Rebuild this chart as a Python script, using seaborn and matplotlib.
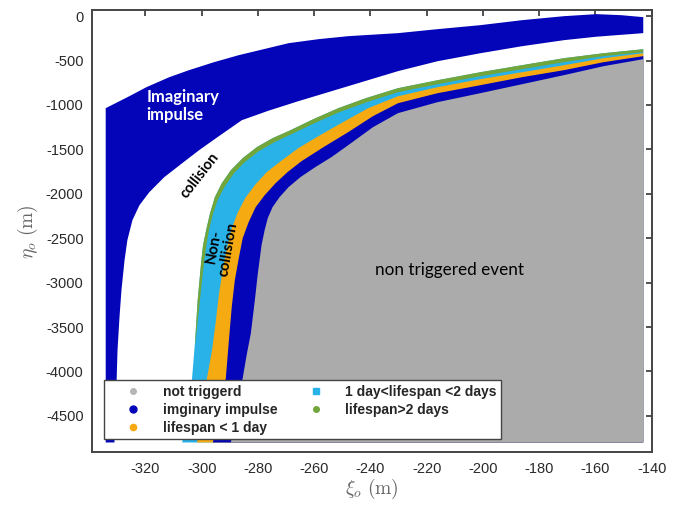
import numpy as np
import seaborn as sns
import matplotlib
matplotlib.use("Agg")
import matplotlib.pyplot as plt
from matplotlib.lines import Line2D

# ---- data: region boundaries (xi in m, eta in m) ----
# upper "imaginary impulse" band
imag_top_xi = [-334.1, -325.7, -319.6, -311.5, -304.5, -295.6, -286.8, -278.0, -269.1,
               -258.5, -247.9, -230.2, -216.1, -200.9, -186.1, -171.2, -159.6, -150.7, -143.0]
imag_top_eta = [-1036, -901, -799, -687, -608, -518, -439, -372, -304,
                -259, -225, -191, -146, -101, -45, 0, 23, 11, -11]
imag_low_xi = [-143.0, -159.6, -171.2, -186.1, -200.9, -216.1, -230.2, -247.9, -265.6,
               -276.2, -285.7, -294.9, -300.9, -306.9, -313.3, -318.6, -322.1, -324.6,
               -326.4, -327.4, -328.5, -329.2, -329.9, -330.2, -331.0]
imag_low_eta = [-191, -231, -270, -338, -417, -507, -619, -788, -957,
                -1064, -1171, -1374, -1509, -1655, -1813, -1982, -2128, -2297,
                -2522, -2747, -3085, -3389, -3761, -4076, -4800]

# outer edge of the lifespan bands (light blue side)
outer_xi = [-306.9, -303.4, -302.3, -301.4, -300.2, -299.5, -298.4, -297.0, -295.3,
            -292.8, -289.6, -285.4, -280.4, -274.8, -268.4, -260.3, -251.4, -241.6,
            -230.2, -216.1, -200.9, -186.1, -171.2, -157.1, -143.0]
outer_eta = [-4800, -4076, -3648, -3198, -2781, -2579, -2410, -2218, -2038,
             -1880, -1734, -1599, -1475, -1374, -1284, -1160, -1036, -923,
             -811, -721, -631, -552, -473, -417, -372]
# light blue / orange
lb_or_xi = [-301.6, -298.1, -296.3, -294.9, -293.9, -292.4, -291.0, -289.3, -287.1,
            -284.3, -280.8, -276.9, -271.9, -265.6, -258.5, -250.4, -240.8, -230.2,
            -216.1, -200.9, -186.1, -171.2, -157.1, -143.0]
lb_or_eta = [-4800, -4076, -3761, -3423, -3142, -2838, -2612, -2387, -2207,
             -2038, -1892, -1757, -1633, -1486, -1351, -1205, -1036, -901,
             -799, -709, -631, -552, -473, -417]
# orange / blue
or_bl_xi = [-296.0, -291.4, -290.3, -289.3, -288.2, -286.8, -285.4, -283.3, -280.8,
            -277.6, -273.7, -269.5, -264.5, -256.7, -247.9, -239.1, -230.2, -216.1,
            -200.9, -186.1, -171.2, -157.1, -143.0]
or_bl_eta = [-4800, -4076, -3648, -3277, -2973, -2725, -2500, -2320, -2151,
             -2016, -1880, -1757, -1633, -1475, -1306, -1126, -980, -867,
             -777, -687, -608, -518, -450]
# blue / grey
bl_gr_xi = [-289.6, -285.4, -284.0, -282.5, -281.5, -280.8, -280.1, -279.4, -278.7,
            -277.6, -276.5, -274.8, -272.3, -269.1, -264.9, -259.6, -253.9, -247.9,
            -239.1, -230.2, -216.1, -200.9, -186.1, -171.2, -157.1, -143.0]
bl_gr_eta = [-4800, -4076, -3817, -3569, -3310, -3119, -2916, -2747, -2579,
             -2410, -2275, -2151, -2038, -1925, -1813, -1700, -1588, -1453,
             -1250, -1092, -968, -867, -766, -664, -563, -484]
# inner edge of the thin green strip (lifespan > 2 days); its outer edge is outer_*
green_in_xi = [-302.3, -300.6, -299.2, -298.3, -297.4, -296.0, -294.2, -291.7, -288.5,
               -284.7, -279.7, -274.1, -268.1, -259.9, -251.1, -241.2, -230.2, -216.1,
               -200.9, -186.1, -171.2, -157.1, -143.0]
green_in_eta = [-3705, -3198, -2781, -2579, -2410, -2229, -2061, -1914, -1768,
                -1644, -1520, -1419, -1329, -1205, -1081, -968, -856, -766,
                -676, -597, -518, -450, -405]

legend_labels = ["not triggerd", "imginary impulse", "lifespan < 1 day",
                 "1 day<lifespan <2 days", "lifespan>2 days"]
x_ticks = list(range(-320, -139, 20))
y_ticks = list(range(0, -4501, -500))

GREY = "#ababab"
BLUE = "#0404b8"
ORANGE = "#f5aa12"
LBLUE = "#29b2e8"
GREEN = "#72a53a"

sns.set_theme(style="white")
plt.rcParams["font.family"] = ["Liberation Sans", "DejaVu Sans"]
plt.rcParams["mathtext.fontset"] = "cm"
plt.rcParams["axes.unicode_minus"] = False

fig = plt.figure(figsize=(6.86, 5.07), dpi=100)
ax = fig.add_axes([0.134, 0.108, 0.816, 0.872])

x_right = outer_xi[-1]
y_bottom = outer_eta[0]


def region_right_of(xs, ys):
    # polygon from a boundary to the lower right corner of the data
    return list(xs) + [x_right], list(ys) + [y_bottom]


for xs, ys, col in [(outer_xi, outer_eta, LBLUE), (lb_or_xi, lb_or_eta, ORANGE),
                    (or_bl_xi, or_bl_eta, BLUE), (bl_gr_xi, bl_gr_eta, GREY)]:
    px, py = region_right_of(xs, ys)
    ax.fill(px, py, color=col, lw=0)

# green strip: outer edge above eta ~ -3650, back along the inner edge
ax.fill(outer_xi[2:] + green_in_xi[::-1], outer_eta[2:] + green_in_eta[::-1],
        color=GREEN, lw=0)

imag_x = imag_top_xi + imag_low_xi + [imag_top_xi[0]]
imag_y = imag_top_eta + imag_low_eta + [imag_low_eta[-1]]
ax.fill(imag_x, imag_y, color=BLUE, lw=0)

# annotations
ax.text(-319.6, -1013, "Imaginary\nimpulse", color="white", fontsize=12,
        fontweight="bold", family=["Lato", "DejaVu Sans"], ha="left", va="center",
        linespacing=1.2)
ax.text(-300.6, -1790, "collision", color="black", fontsize=10.5, fontweight="bold",
        family=["Lato", "DejaVu Sans"], rotation=52, ha="center", va="center")
ax.text(-293.1, -2610, "Non-\ncollision", color="black", fontsize=10.8,
        fontweight="bold", family=["Lato", "DejaVu Sans"], rotation=80,
        ha="center", va="center", linespacing=1.0)
ax.text(-211.9, -2860, "non triggered event", color="black", fontsize=12.3,
        family=["Lato", "DejaVu Sans"], ha="center", va="center")

ax.set_xlim(-339, -141.3)
ax.set_ylim(-4910, 68)
ax.set_xticks(x_ticks)
ax.set_yticks(y_ticks)
ax.tick_params(direction="in", length=4, width=1.2, top=True, right=True,
               labelsize=10.5, labelcolor="#2a2a2a", color="#333333")
ax.tick_params(axis="x", pad=7)
ax.tick_params(axis="y", pad=6)
for s in ax.spines.values():
    s.set_color("#444444")
    s.set_linewidth(1.4)

ax.set_xlabel(r"$\xi_o\ (\mathrm{m})$", fontsize=14, color="#666666", labelpad=1)
ax.set_ylabel(r"$\eta_o\ (\mathrm{m})$", fontsize=14, color="#666666", labelpad=4)

handles = [
    Line2D([], [], ls="", marker="o", ms=4, color="#b5b5b5"),
    Line2D([], [], ls="", marker="o", ms=5, color=BLUE),
    Line2D([], [], ls="", marker="o", ms=4.5, color=ORANGE),
    Line2D([], [], ls="", marker="s", ms=4, color=LBLUE),
    Line2D([], [], ls="", marker="o", ms=4, color=GREEN),
]
leg = ax.legend(handles, legend_labels, ncol=2, loc="lower left",
                bbox_to_anchor=(0.0214, 0.029), borderaxespad=0,
                frameon=True, fancybox=False, framealpha=1,
                edgecolor="#444444", handlelength=3.6, handletextpad=0.3,
                labelspacing=0.3, borderpad=0.33, columnspacing=1.0,
                prop={"family": "Liberation Sans", "weight": "bold", "size": 10})
leg.get_frame().set_linewidth(1.0)

fig.savefig("out.png", dpi=100)
